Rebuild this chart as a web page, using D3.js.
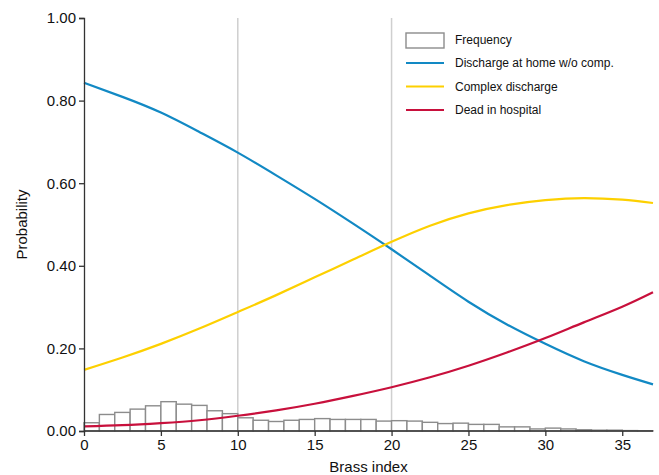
<!DOCTYPE html>
<html>
<head>
<meta charset="utf-8">
<script src="https://cdn.jsdelivr.net/npm/d3@7"></script>
<style>
  body { margin: 0; background: #fff; }
  svg { font-family: "Liberation Sans", Arial, sans-serif; }
</style>
</head>
<body>
<svg id="chart" width="659" height="475"></svg>
<script>
// Brass index positions where the curves were read
const brass = [0, 2.5, 5, 7.5, 10, 12.5, 15, 17.5, 20, 22.5, 25, 27.5, 30, 32.5, 35, 37]
const homeNoComp = [0.843, 0.809, 0.771, 0.724, 0.674, 0.619, 0.562, 0.502, 0.440, 0.376, 0.313, 0.258, 0.211, 0.169, 0.136, 0.113]
const complexDischarge = [0.148, 0.178, 0.211, 0.248, 0.288, 0.329, 0.372, 0.415, 0.458, 0.497, 0.527, 0.547, 0.559, 0.564, 0.560, 0.552]
const deadInHospital = [0.011, 0.014, 0.019, 0.026, 0.037, 0.050, 0.066, 0.085, 0.106, 0.130, 0.158, 0.190, 0.225, 0.263, 0.301, 0.336]

// Histogram: one bin per unit of Brass index, starting at 0
const freq = [0.020, 0.040, 0.045, 0.053, 0.061, 0.071, 0.065, 0.062, 0.049, 0.042,
  0.032, 0.026, 0.023, 0.026, 0.028, 0.030, 0.028, 0.028, 0.028, 0.024,
  0.025, 0.024, 0.021, 0.018, 0.019, 0.016, 0.016, 0.010, 0.010, 0.005,
  0.007, 0.005, 0.003, 0.002, 0.002, 0.001, 0.0005]

const xTicks = [0, 5, 10, 15, 20, 25, 30, 35]
const yTicks = [0, 0.2, 0.4, 0.6, 0.8, 1.0]
const xLines = [10, 20]

const series = [
  { name: 'Discharge at home w/o comp.', values: homeNoComp, color: '#1289c4' },
  { name: 'Complex discharge', values: complexDischarge, color: '#fdd000' },
  { name: 'Dead in hospital', values: deadInHospital, color: '#c8103c' },
]

const svg = d3.select('#chart')
const plot = { left: 84, right: 653, top: 18, bottom: 431 }

const x = d3.scaleLinear().domain([0, 37]).range([plot.left, plot.right])
const y = d3.scaleLinear().domain([0, 1]).range([plot.bottom, plot.top])

// Reference lines
svg.append('g')
  .selectAll('line')
  .data(xLines)
  .join('line')
  .attr('x1', d => x(d)).attr('x2', d => x(d))
  .attr('y1', plot.top).attr('y2', plot.bottom)
  .attr('stroke', '#cfcfcf')
  .attr('stroke-width', 1.5)

// Histogram
svg.append('g')
  .selectAll('rect')
  .data(freq)
  .join('rect')
  .attr('x', (d, i) => x(i))
  .attr('width', (d, i) => x(i + 1) - x(i))
  .attr('y', d => y(d))
  .attr('height', d => y(0) - y(d))
  .attr('fill', '#fff')
  .attr('stroke', '#8c8c8c')
  .attr('stroke-width', 1.4)

// Curves
const line = d3.line()
  .x((d, i) => x(brass[i]))
  .y(d => y(d))
  .curve(d3.curveNatural)

svg.append('g')
  .selectAll('path')
  .data(series)
  .join('path')
  .attr('d', d => line(d.values))
  .attr('fill', 'none')
  .attr('stroke', d => d.color)
  .attr('stroke-width', 2.2)

// Axes
const xAxis = svg.append('g')
  .attr('transform', `translate(0,${plot.bottom})`)
  .call(d3.axisBottom(x).tickValues(xTicks).tickSize(5).tickPadding(3))
const yAxis = svg.append('g')
  .attr('transform', `translate(${plot.left},0)`)
  .call(d3.axisLeft(y).tickValues(yTicks).tickFormat(d3.format('.2f')).tickSize(5).tickPadding(3))

;[xAxis, yAxis].forEach(a => {
  a.select('.domain').attr('stroke', '#333').attr('stroke-width', 1.3)
  a.selectAll('.tick line').attr('stroke', '#333').attr('stroke-width', 1.3)
  a.selectAll('.tick text').attr('fill', '#111').style('font-size', '15px')
})
xAxis.select('.domain').attr('d', `M${plot.left},0H${plot.right}`)

svg.append('text')
  .attr('x', (plot.left + plot.right) / 2).attr('y', 472)
  .attr('text-anchor', 'middle')
  .attr('fill', '#111')
  .style('font-size', '15px')
  .text('Brass index')

svg.append('text')
  .attr('transform', `translate(27,${(plot.top + plot.bottom) / 2}) rotate(-90)`)
  .attr('text-anchor', 'middle')
  .attr('fill', '#111')
  .style('font-size', '15px')
  .text('Probability')

// Legend
const legend = svg.append('g').attr('transform', 'translate(406,40)')
legend.append('rect')
  .attr('x', 0).attr('y', -7).attr('width', 38).attr('height', 15)
  .attr('fill', '#fff').attr('stroke', '#8c8c8c').attr('stroke-width', 1.4)
legend.append('text')
  .attr('x', 49).attr('y', 0).attr('dy', '0.35em')
  .style('font-size', '12px').attr('fill', '#111')
  .text('Frequency')

const items = legend.selectAll('.item')
  .data(series)
  .join('g')
  .attr('class', 'item')
  .attr('transform', (d, i) => `translate(0,${23 + i * 23.5})`)
items.append('line')
  .attr('x1', 0).attr('x2', 38)
  .attr('stroke', d => d.color).attr('stroke-width', 2.2)
items.append('text')
  .attr('x', 49).attr('dy', '0.35em')
  .style('font-size', '12px').attr('fill', '#111')
  .text(d => d.name)
</script>
</body>
</html>
